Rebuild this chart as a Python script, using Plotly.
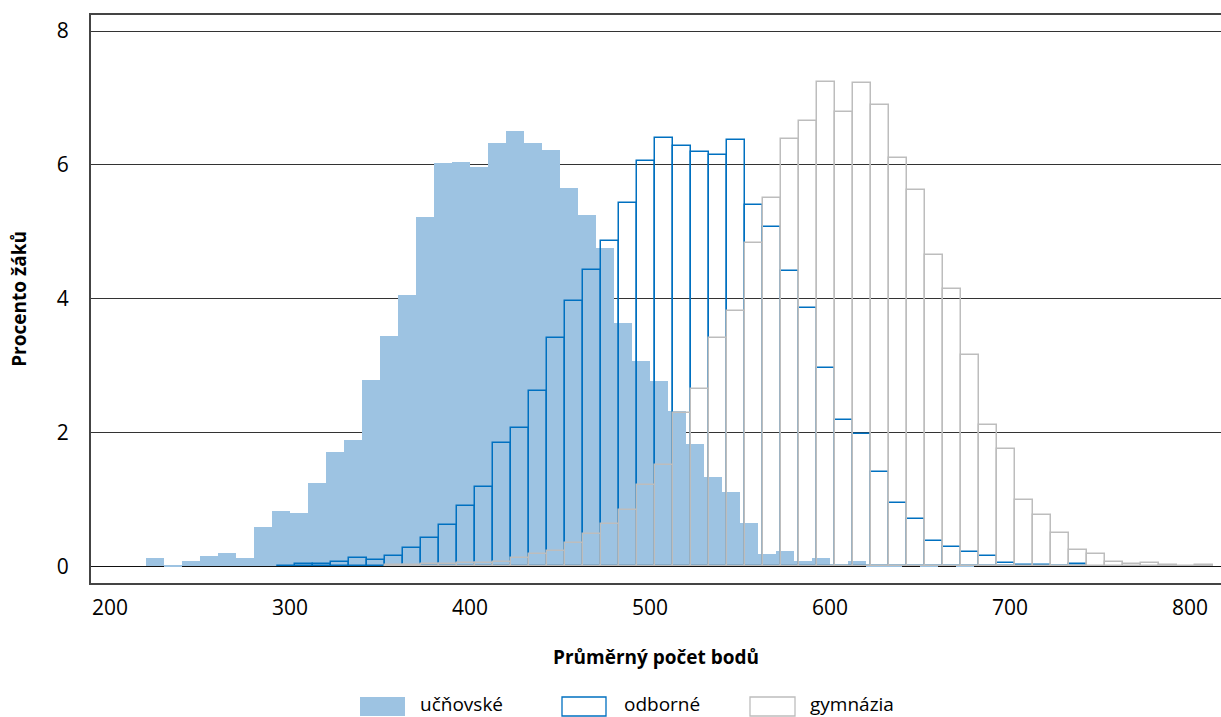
import plotly.graph_objects as go

# ---- data ----
uc_start = [220 + 10 * i for i in range(46)]
uc_vals = [0.13, 0.02, 0.08, 0.16, 0.20, 0.13, 0.59, 0.83, 0.80, 1.25,
           1.71, 1.89, 2.79, 3.45, 4.06, 5.22, 6.03, 6.05, 5.97, 6.33,
           6.51, 6.33, 6.22, 5.66, 5.25, 4.76, 3.64, 3.07, 2.77, 2.32,
           1.83, 1.34, 1.11, 0.65, 0.19, 0.23, 0.08, 0.125, 0.0, 0.08,
           0.01, 0.01, 0.0, 0.01, 0.0, 0.01]

od_start = [292.5 + 10 * i for i in range(45)]
od_vals = [0.01, 0.04, 0.03, 0.07, 0.12, 0.10, 0.15, 0.28, 0.42, 0.62,
           0.90, 1.19, 1.85, 2.07, 2.62, 3.42, 3.96, 4.43, 4.87, 5.43,
           6.06, 6.40, 6.28, 6.19, 6.15, 6.37, 5.40, 5.07, 4.41, 3.86,
           2.97, 2.19, 1.98, 1.41, 0.95, 0.71, 0.38, 0.29, 0.22, 0.15,
           0.05, 0.02, 0.02, 0.0, 0.03]

gy_start = [352.5 + 10 * i for i in range(46)]
gy_vals = [0.02, 0.02, 0.03, 0.03, 0.05, 0.05, 0.07, 0.12, 0.18, 0.23,
           0.35, 0.48, 0.63, 0.85, 1.21, 1.51, 2.29, 2.65, 3.42, 3.82,
           4.84, 5.50, 6.39, 6.65, 7.24, 6.79, 7.23, 6.90, 6.11, 5.63,
           4.66, 4.14, 3.16, 2.12, 1.76, 1.00, 0.77, 0.50, 0.25, 0.18,
           0.07, 0.04, 0.05, 0.02, 0.0, 0.02]

series_names = ["učňovské", "odborné", "gymnázia"]
x_ticks = [200, 300, 400, 500, 600, 700, 800]
y_ticks = [0, 2, 4, 6, 8]

BIN = 10
FILL = "#9DC3E2"
BLUE = "#0070C0"
GREY = "#BDBDBD"
FONT = "Open Sans"

fig = go.Figure()
fig.add_trace(go.Bar(
    x=uc_start, y=uc_vals, width=BIN, offset=0, name=series_names[0],
    marker=dict(color=FILL, line=dict(width=0)), showlegend=False))
fig.add_trace(go.Bar(
    x=od_start, y=od_vals, width=BIN, offset=0, name=series_names[1],
    marker=dict(color="rgba(0,0,0,0)", line=dict(color=BLUE, width=1.5)),
    showlegend=False))
fig.add_trace(go.Bar(
    x=gy_start, y=gy_vals, width=BIN, offset=0, name=series_names[2],
    marker=dict(color="rgba(0,0,0,0)", line=dict(color=GREY, width=1.5)),
    showlegend=False))

# plot area in pixels: x 91..1221, y 15..583
L, R, T, B = 91, 1221, 15, 583
W, H = R - L, B - T


def px(xp):
    return (xp - L) / W


def py(yp):
    return (B - yp) / H


shapes = []
annotations = []
legend_items = [
    (360, 405, 418, dict(fillcolor=FILL, line=dict(width=0))),
    (562, 606, 622, dict(fillcolor="white", line=dict(color=BLUE, width=1.3))),
    (750, 795, 808, dict(fillcolor="white", line=dict(color=GREY, width=1.3))),
]
for (x0, x1, tx, sty), name in zip(legend_items, series_names):
    shapes.append(dict(type="rect", xref="paper", yref="paper",
                       x0=px(x0), x1=px(x1), y0=py(716), y1=py(697), **sty))
    annotations.append(dict(xref="paper", yref="paper", x=px(tx), y=py(704),
                            xanchor="left", yanchor="middle", showarrow=False,
                            text=name, font=dict(family=FONT, size=19, color="#000")))

fig.update_layout(
    width=1221, height=717,
    margin=dict(l=L, r=0, t=T, b=717 - B),
    paper_bgcolor="white", plot_bgcolor="white",
    barmode="overlay", bargap=0,
    showlegend=False,
    font=dict(family=FONT, size=20, color="#000"),
    shapes=shapes, annotations=annotations,
    xaxis=dict(
        range=[189.4, 817.2], tickvals=x_ticks, ticktext=[str(v) for v in x_ticks],
        showgrid=False, zeroline=False,
        showline=True, linecolor="#444", linewidth=2, mirror=True,
        ticks="outside", ticklen=5, tickcolor="rgba(0,0,0,0)",
        tickfont=dict(size=21),
        title=dict(text="<b>Průměrný počet bodů</b>", font=dict(size=19), standoff=30),
    ),
    yaxis=dict(
        range=[-0.247, 8.24], tickvals=y_ticks, ticktext=[str(v) for v in y_ticks],
        showgrid=True, gridcolor="#333", gridwidth=1,
        zeroline=True, zerolinecolor="#111", zerolinewidth=1,
        showline=True, linecolor="#444", linewidth=2, mirror=False,
        ticks="outside", ticklen=16, tickcolor="rgba(0,0,0,0)",
        tickfont=dict(size=21),
        title=dict(text="<b>Procento žáků</b>", font=dict(size=19), standoff=25),
    ),
)

fig.write_html("out.html", config={"displayModeBar": False},
               post_script="document.body.style.margin='0';document.body.style.overflow='hidden';")
